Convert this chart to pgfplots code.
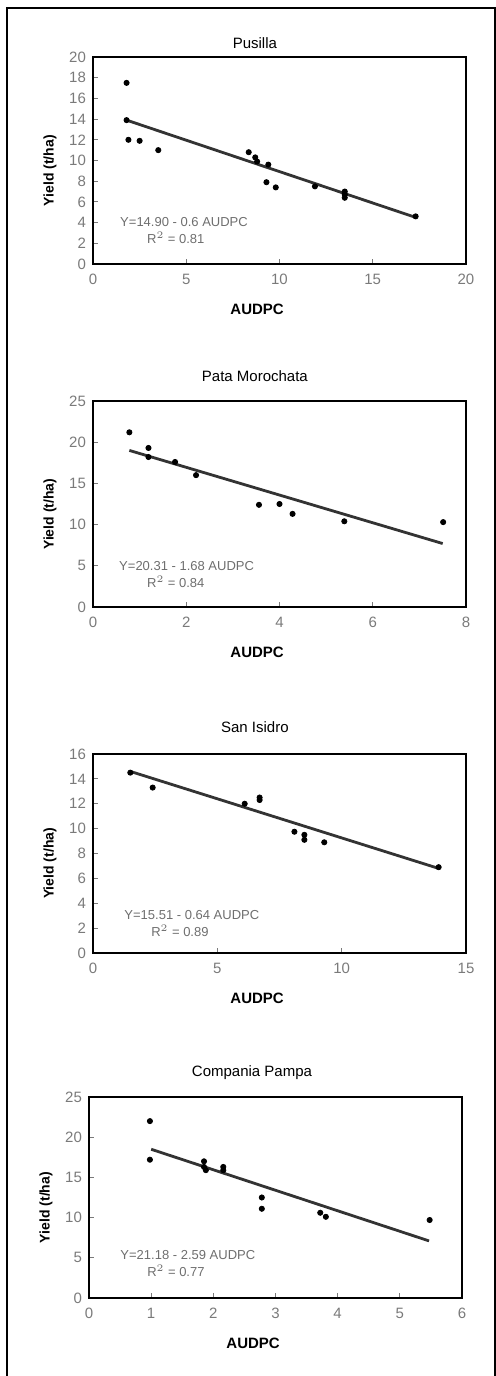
\documentclass[border=0pt]{standalone}
\usepackage{fontspec}
\setmainfont{Liberation Sans}
\usepackage{pgfplots}
\pgfplotsset{compat=1.18}
\definecolor{fitc}{HTML}{333333}
\definecolor{tickc}{HTML}{7A7A7A}
\definecolor{eqc}{HTML}{6E6E6E}
\pgfplotsset{panel/.style={
  scale only axis, width=186.5pt, anchor=south west,
  axis line style={line width=0.6pt},
  tick align=inside, xtick pos=bottom, ytick pos=left,
  tick style={tickc, line width=0.4pt}, major tick length=2.5pt,
  ticklabel style={font=\fontsize{7.5}{8}\selectfont, text=tickc},
  xticklabel style={yshift=-1.5pt},
  /pgf/number format/assume math mode=true,
  xlabel={AUDPC}, ylabel={Yield (t/ha)},
  xlabel style={font=\bfseries\fontsize{7.5}{8}\selectfont, at={(axis description cs:0.44,0)}, anchor=center, yshift=-22.5pt},
  ylabel style={font=\bfseries\fontsize{7}{8}\selectfont, at={(axis description cs:-0.115,0.45)}, anchor=center},
  title style={font=\fontsize{7.5}{8}\selectfont, at={(axis description cs:0.434,1)}, anchor=center},
  xmin=0, ymin=0,
  mk/.style={only marks, mark=*, mark size=1.3pt, black},
  fit/.style={no marks, fitc, line width=1.4pt},
}}
\newcommand{\eqnode}[4]{\node[font=\fontsize{6.5}{7}\selectfont, text=eqc, anchor=center] at (axis description cs:#1) {#2};
  \node[font=\fontsize{6.5}{7}\selectfont, text=eqc, anchor=center] at (axis description cs:#3) {#4};}
\begin{document}
\begin{tikzpicture}
\path[use as bounding box] (0,0) rectangle (248pt,688pt);
\draw[line width=0.6pt] (3.5pt,0pt) -- (3.5pt,684pt) -- (247.5pt,684pt) -- (247.5pt,0pt);

% Panel 1: Pusilla
\begin{axis}[panel, at={(46.5pt,556pt)}, height=103.5pt,
  xmax=20, ymax=20, xtick={0,5,10,15,20}, ytick={0,2,...,20},
  title={Pusilla}, title style={yshift=1pt}]
\addplot[mk] coordinates {(1.8,17.5) (1.8,13.9) (1.9,12.0) (2.5,11.9) (3.5,11.0)
  (8.35,10.8) (8.7,10.3) (8.8,9.9) (9.4,9.6) (9.3,7.9) (9.8,7.4) (11.9,7.5)
  (13.5,7.0) (13.5,6.7) (13.5,6.4) (17.3,4.6)};
\addplot[fit] coordinates {(1.8,13.9) (17.3,4.5)};
\eqnode{0.244,0.203}{Y=14.90 - 0.6 AUDPC}{0.222,0.125}{R$^2$ = 0.81}
\end{axis}

% Panel 2: Pata Morochata
\begin{axis}[panel, at={(46.5pt,384.5pt)}, height=103pt,
  xmax=8, ymax=25, xtick={0,2,4,6,8}, ytick={0,5,...,25},
  title={Pata Morochata}, title style={yshift=6.5pt}]
\addplot[mk] coordinates {(0.78,21.2) (1.19,19.3) (1.19,18.2) (1.76,17.6) (2.21,16.0)
  (3.56,12.4) (4.0,12.5) (4.28,11.3) (5.39,10.4) (7.51,10.3)};
\addplot[fit] coordinates {(0.78,19.0) (7.5,7.7)};
\eqnode{0.251,0.20}{Y=20.31 - 1.68 AUDPC}{0.222,0.122}{R$^2$ = 0.84}
\end{axis}

% Panel 3: San Isidro
\begin{axis}[panel, at={(46.5pt,211.5pt)}, height=99.5pt,
  xmax=15, ymax=16, xtick={0,5,10,15}, ytick={0,2,...,16},
  title={San Isidro}, title style={yshift=7.5pt}]
\addplot[mk] coordinates {(1.5,14.5) (2.4,13.3) (6.1,12.0) (6.7,12.5) (6.7,12.3)
  (8.1,9.75) (8.5,9.5) (8.5,9.1) (9.3,8.9) (13.9,6.9)};
\addplot[fit] coordinates {(1.5,14.6) (13.9,6.8)};
\eqnode{0.265,0.19}{Y=15.51 - 0.64 AUDPC}{0.233,0.112}{R$^2$ = 0.89}
\end{axis}

% Panel 4: Compania Pampa
\begin{axis}[panel, at={(44.5pt,39pt)}, height=100.5pt,
  xmax=6, ymax=25, xtick={0,1,...,6}, ytick={0,5,...,25},
  title={Compania Pampa}, title style={yshift=6pt, at={(axis description cs:0.437,1)}}]
\addplot[mk] coordinates {(0.98,22.0) (0.98,17.2) (1.85,17.0) (1.85,16.3) (1.88,15.9)
  (2.16,16.3) (2.16,15.9) (2.78,12.5) (2.78,11.1) (3.72,10.6) (3.81,10.1) (5.48,9.7)};
\addplot[fit] coordinates {(1.0,18.5) (5.47,7.1)};
\eqnode{0.265,0.214}{Y=21.18 - 2.59 AUDPC}{0.233,0.136}{R$^2$ = 0.77}
\end{axis}
\end{tikzpicture}
\end{document}
